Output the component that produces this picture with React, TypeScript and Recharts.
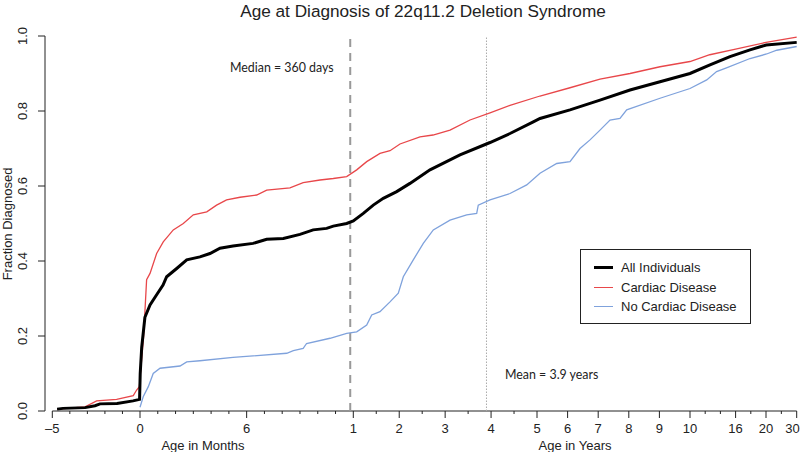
import { LineChart, Line, XAxis, YAxis, ReferenceLine, Legend } from "recharts";

// ages are in years (negative = prenatal), values are fraction diagnosed
const allAge = [-0.394, -0.366, -0.261, -0.214, -0.19, -0.109, -0.033, -0.002, 0.001, 0.008, 0.023, 0.047, 0.078, 0.108, 0.125, 0.172, 0.219, 0.281, 0.328, 0.375, 0.436, 0.53, 0.594, 0.672, 0.75, 0.812, 0.875, 0.906, 0.969, 1.0, 1.218, 1.435, 1.653, 1.945, 2.234, 2.67, 3.323, 3.977, 4.412, 4.919, 5.098, 6.078, 7.059, 8.039, 9.02, 10, 12.63, 15.26, 17.89, 20.09, 30];
const allFrac = [0.005, 0.007, 0.009, 0.014, 0.019, 0.02, 0.027, 0.031, 0.1, 0.17, 0.25, 0.283, 0.31, 0.336, 0.358, 0.38, 0.403, 0.411, 0.42, 0.434, 0.44, 0.447, 0.458, 0.46, 0.471, 0.483, 0.487, 0.493, 0.5, 0.507, 0.527, 0.549, 0.567, 0.585, 0.607, 0.643, 0.683, 0.716, 0.74, 0.771, 0.78, 0.803, 0.829, 0.856, 0.878, 0.9, 0.923, 0.945, 0.963, 0.976, 0.983];

const cardiacAge = [-0.394, -0.261, -0.206, -0.111, -0.032, -0.016, -0.003, 0.017, 0.031, 0.047, 0.078, 0.109, 0.156, 0.203, 0.25, 0.313, 0.359, 0.406, 0.469, 0.547, 0.594, 0.703, 0.765, 0.844, 0.906, 0.969, 1.074, 1.292, 1.581, 1.799, 2.017, 2.452, 2.735, 3.106, 3.541, 3.977, 4.412, 5.098, 6.078, 7.059, 8.039, 9.02, 10, 12.6, 16, 20, 30];
const cardiacFrac = [0.005, 0.011, 0.027, 0.031, 0.041, 0.056, 0.065, 0.2, 0.35, 0.367, 0.42, 0.451, 0.483, 0.5, 0.523, 0.531, 0.549, 0.563, 0.57, 0.576, 0.589, 0.595, 0.609, 0.616, 0.62, 0.625, 0.643, 0.665, 0.687, 0.694, 0.712, 0.731, 0.736, 0.749, 0.776, 0.795, 0.815, 0.84, 0.862, 0.885, 0.9, 0.918, 0.932, 0.95, 0.965, 0.983, 0.997];

const noCardiacAge = [0, 0.015, 0.039, 0.062, 0.094, 0.1875, 0.219, 0.281, 0.436, 0.53, 0.688, 0.719, 0.765, 0.781, 0.891, 0.969, 1.074, 1.292, 1.401, 1.581, 1.799, 1.98, 2.089, 2.306, 2.524, 2.742, 3.106, 3.469, 3.687, 3.721, 3.977, 4.412, 4.776, 5.098, 5.644, 6.078, 6.405, 6.732, 7.059, 7.386, 7.712, 7.931, 9.02, 10, 12.2, 13.5, 14.8, 17.9, 20.2, 23.5, 30];
const noCardiacFrac = [0.01, 0.038, 0.065, 0.1, 0.114, 0.12, 0.131, 0.134, 0.143, 0.147, 0.154, 0.161, 0.167, 0.18, 0.194, 0.207, 0.211, 0.229, 0.256, 0.265, 0.291, 0.314, 0.358, 0.403, 0.447, 0.483, 0.509, 0.523, 0.527, 0.549, 0.563, 0.58, 0.603, 0.634, 0.66, 0.665, 0.7, 0.723, 0.749, 0.776, 0.78, 0.803, 0.834, 0.86, 0.883, 0.905, 0.915, 0.94, 0.952, 0.962, 0.972];

// axis ticks
const monthTicks = [-5, -4, -3, -2, -1, 0, 1, 2, 3, 4, 5, 6, 7, 8, 9, 10, 11];
const monthLabels = [-5, 0, 6];
const yearTicks = [1, 1.5, 2, 2.5, 3, 3.5, 4, 4.5, 5, 6, 7, 8, 9, 10, 12, 14, 16, 18, 20, 25, 30];
const yearLabels = [1, 2, 3, 4, 5, 6, 7, 8, 9, 10, 16, 20, 30];
const yTicks = [0, 0.2, 0.4, 0.6, 0.8, 1.0];

const MEDIAN_DAYS = 360;
const MEAN_YEARS = 3.9;

// piecewise axis transform (months stretched, years compressed)
const KNOT_AGE = [-5 / 12, 0, 1, 5, 10, 20, 30];
const KNOT_POS = [52.3, 140, 353.3, 537, 690, 766, 796.7];
const X_DOMAIN = [45, 797];

function agePos(age: number) {
  for (let i = 1; i < KNOT_AGE.length; i++) {
    if (age <= KNOT_AGE[i] || i === KNOT_AGE.length - 1) {
      const a0 = KNOT_AGE[i - 1], a1 = KNOT_AGE[i];
      const p0 = KNOT_POS[i - 1], p1 = KNOT_POS[i];
      return p0 + ((age - a0) / (a1 - a0)) * (p1 - p0);
    }
  }
  return KNOT_POS[0];
}

const toSeries = (ages: number[], fracs: number[]) =>
  ages.map((a, i) => ({ u: agePos(a), y: fracs[i] }));

const allData = toSeries(allAge, allFrac);
const cardiacData = toSeries(cardiacAge, cardiacFrac);
const noCardiacData = toSeries(noCardiacAge, noCardiacFrac);

const xTickInfo = [
  ...monthTicks.map((m) => ({ pos: agePos(m / 12), label: monthLabels.includes(m) ? String(m).replace("-", "\u2013") : "" })),
  ...yearTicks.map((y) => ({ pos: agePos(y), label: yearLabels.includes(y) ? String(y) : "" })),
];

const FONT = "'Liberation Sans', Arial, sans-serif";
const ANNOT_FONT = "Lato, 'Open Sans', sans-serif";
const INK = "#222";

const XTick = (props: any) => {
  const { x, y, payload } = props;
  const info = xTickInfo.find((t) => Math.abs(t.pos - payload.value) < 0.01);
  const major = info && info.label !== "";
  // keep the last label inside the picture
  const tx = Math.min(x, 800 - info!.label.length * 3.7);
  return (
    <g>
      <line x1={x} x2={x} y1={y} y2={y + (major ? 7 : 3)} stroke={INK} strokeWidth={1} />
      {major && (
        <text x={tx} y={y + 22} textAnchor="middle" fontSize={13} fontFamily={FONT} fill={INK}>
          {info!.label}
        </text>
      )}
    </g>
  );
};

const YTick = (props: any) => {
  const { x, y, payload } = props;
  return (
    <text x={x} y={y} transform={`rotate(-90, ${x}, ${y})`} textAnchor="middle" fontSize={13} fontFamily={FONT} fill={INK}>
      {payload.value.toFixed(1)}
    </text>
  );
};

const legendItems = [
  { name: "All Individuals", color: "#000", width: 3 },
  { name: "Cardiac Disease", color: "#e8474a", width: 1.3 },
  { name: "No Cardiac Disease", color: "#7fa2dc", width: 1.3 },
];

const renderLegend = () => (
  <div style={{ width: 171, height: 75, boxSizing: "border-box", border: `1px solid ${INK}`, background: "#fff", fontFamily: FONT, fontSize: 13, color: INK, paddingTop: 8 }}>
    {legendItems.map((it) => (
      <div key={it.name} style={{ display: "flex", alignItems: "center", height: 19.5 }}>
        <span style={{ display: "inline-block", marginLeft: 13, width: 19, height: it.width, background: it.color }} />
        <span style={{ marginLeft: 8 }}>{it.name}</span>
      </div>
    ))}
  </div>
);

export default function App() {
  const xLine = [agePos(-5 / 12), agePos(30)];
  return (
    <div style={{ position: "absolute", left: 0, top: 0, width: 800, height: 452, background: "#fff" }}>
      <LineChart width={800} height={452} margin={{ top: 36, right: 3, bottom: 0, left: 0 }} style={{ fontFamily: FONT }}>
        <XAxis
          type="number"
          dataKey="u"
          domain={X_DOMAIN}
          allowDataOverflow
          ticks={xTickInfo.map((t) => t.pos)}
          interval={0}
          tick={XTick}
          tickLine={false}
          axisLine={false}
          tickSize={0}
          tickMargin={0}
          height={41}
        />
        <YAxis
          type="number"
          domain={[0, 1]}
          ticks={yTicks}
          interval={0}
          width={45}
          tickSize={7}
          tickMargin={11}
          tick={YTick}
          tickLine={{ stroke: INK }}
          axisLine={{ stroke: INK }}
        />
        <ReferenceLine segment={[{ x: xLine[0], y: 0 }, { x: xLine[1], y: 0 }]} stroke={INK} strokeWidth={1} ifOverflow="visible" />
        <ReferenceLine x={agePos(MEDIAN_DAYS / 365.25)} stroke="#999" strokeWidth={2} strokeDasharray="8 6" />
        <ReferenceLine x={agePos(MEAN_YEARS)} stroke="#aaa" strokeWidth={1} strokeDasharray="1.5 1.5" />
        <Line data={cardiacData} dataKey="y" type="linear" stroke="#e8474a" strokeWidth={1.3} dot={false} isAnimationActive={false} />
        <Line data={noCardiacData} dataKey="y" type="linear" stroke="#7fa2dc" strokeWidth={1.3} dot={false} isAnimationActive={false} />
        <Line data={allData} dataKey="y" type="linear" stroke="#000" strokeWidth={3} dot={false} isAnimationActive={false} />
        <Legend layout="horizontal" verticalAlign="middle" align="center" content={renderLegend} wrapperStyle={{ position: "absolute", left: 580, top: 249, width: 171, height: 75 }} />
        <text x={423} y={17} textAnchor="middle" fontSize={17.2} fontFamily={FONT} fill={INK}>
          Age at Diagnosis of 22q11.2 Deletion Syndrome
        </text>
        <text x={203} y={450} textAnchor="middle" fontSize={13} fontFamily={FONT} fill={INK}>Age in Months</text>
        <text x={575} y={450} textAnchor="middle" fontSize={13} fontFamily={FONT} fill={INK}>Age in Years</text>
        <text x={12} y={224} transform="rotate(-90, 12, 224)" textAnchor="middle" fontSize={13} fontFamily={FONT} fill={INK}>
          Fraction Diagnosed
        </text>
        <text x={230} y={72} fontSize={12.4} fontFamily={ANNOT_FONT} fill={INK}>Median = 360 days</text>
        <text x={505} y={379} fontSize={12.4} fontFamily={ANNOT_FONT} fill={INK}>Mean = 3.9 years</text>
      </LineChart>
    </div>
  );
}
